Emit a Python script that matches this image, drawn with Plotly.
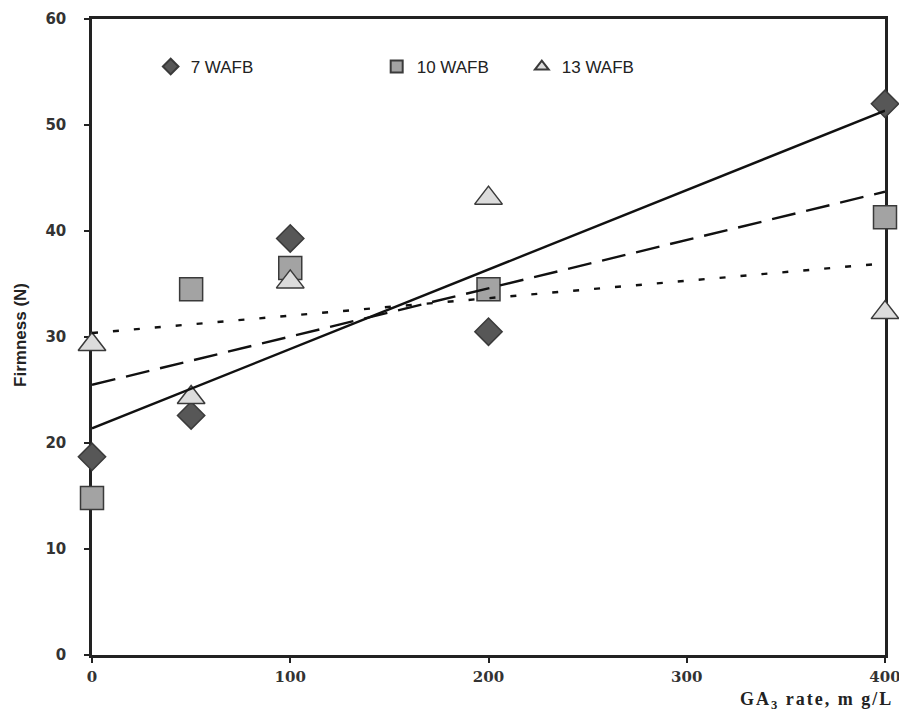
import numpy as np
import plotly.graph_objects as go

# ---- data ----
ga_rate = [0, 50, 100, 200, 400]
wafb7 = [18.7, 22.6, 39.3, 30.5, 52.0]
wafb10 = [14.8, 34.5, 36.5, 34.5, 41.3]
wafb13 = [29.3, 24.3, 35.2, 43.1, 32.3]
series_names = ["7 WAFB", "10 WAFB", "13 WAFB"]
x_ticks = [0, 100, 200, 300, 400]
y_ticks = [0, 10, 20, 30, 40, 50, 60]

series = [wafb7, wafb10, wafb13]
symbols = ["diamond", "square", "triangle-up"]
sizes = [21, 23, 24]
fills = ["#575757", "#a3a3a3", "#dcdcdc"]
edges = ["#3a3a3a", "#3a3a3a", "#3a3a3a"]
dashes = ["solid", "24px,11px", "6px,15px"]
legend_ids = ["legend", "legend2", "legend3"]
legend_x = [0.074, 0.359, 0.542]

fig = go.Figure()
for ys, name, sym, sz, fc, ec, lg in zip(series, series_names, symbols, sizes, fills, edges, legend_ids):
    fig.add_trace(go.Scatter(
        x=ga_rate, y=ys, mode="markers", name=name, legend=lg,
        marker=dict(symbol=sym, size=sz, color=fc, line=dict(color=ec, width=1.5)),
        cliponaxis=False,
    ))

xs = np.array(ga_rate, dtype=float)
for ys, dash in zip(series, dashes):
    slope, intercept = np.polyfit(xs, np.array(ys, dtype=float), 1)
    xe = np.array([xs.min(), xs.max()])
    fig.add_trace(go.Scatter(
        x=xe, y=slope * xe + intercept, mode="lines", showlegend=False,
        line=dict(color="#111111", width=2.4, dash=dash), cliponaxis=False,
    ))

legend_common = dict(orientation="h", yanchor="middle", y=0.9245, xanchor="left",
                     bgcolor="rgba(0,0,0,0)", borderwidth=0, itemsizing="constant",
                     font=dict(family="Liberation Sans", size=17, color="#222222"))
layout_legends = {}
for lg, lx in zip(legend_ids, legend_x):
    layout_legends[lg] = dict(legend_common, x=lx)

# the page body has an 8px margin, so the figure is offset by 8px
fig.update_layout(
    width=899, height=702,
    margin=dict(l=84, r=22, t=11, b=55),
    paper_bgcolor="white", plot_bgcolor="white",
    showlegend=True,
    **layout_legends,
    xaxis=dict(range=[0, 400], tickvals=x_ticks,
               ticks="outside", ticklen=5, tickwidth=1.5,
               tickcolor="#222", showline=True, mirror=True, linewidth=2.5, linecolor="#222",
               showgrid=False, zeroline=False, layer="below traces", automargin=False,
               ticklabelstandoff=1,
               tickfont=dict(family="DejaVu Serif", size=15, color="#333", weight="bold")),
    yaxis=dict(range=[0, 60], tickvals=y_ticks, ticks="outside", ticklen=5, tickwidth=1.5,
               tickcolor="#222", showline=True, mirror=True, linewidth=2.5, linecolor="#222",
               showgrid=False, zeroline=False, layer="below traces", automargin=False,
               ticklabelstandoff=15,
               tickfont=dict(family="DejaVu Sans", size=15, color="#333", weight="bold")),
    annotations=[
        dict(text='<span style="letter-spacing:2px">GA<sub>3</sub> rate, m g/L</span>',
             xref="paper", yref="paper", x=1.012, y=-0.071, xanchor="right", yanchor="middle",
             showarrow=False,
             font=dict(family="Liberation Serif", size=18, color="#222", weight="bold")),
        dict(text="Firmness (N)", xref="paper", yref="paper", x=-0.091, y=0.503,
             xanchor="center", yanchor="middle", textangle=-90, showarrow=False,
             font=dict(family="Liberation Sans", size=17, color="#222", weight="bold")),
    ],
)

fig.write_html("out.html")
